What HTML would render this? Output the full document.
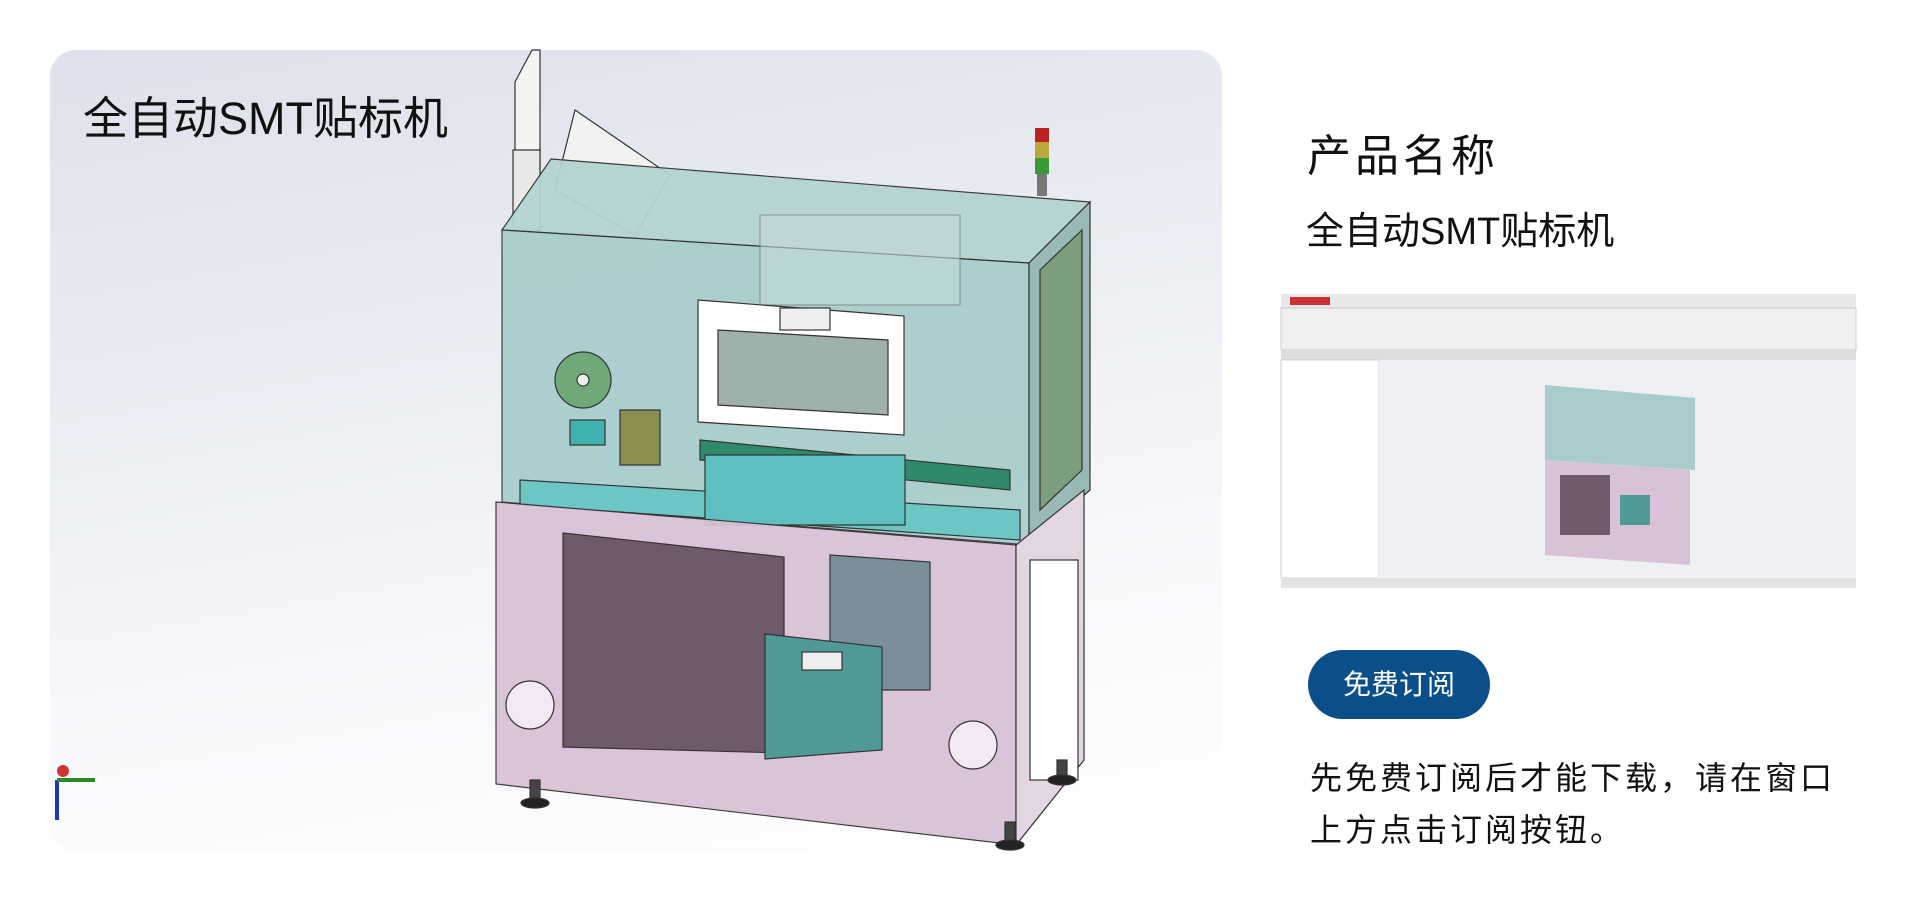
<!DOCTYPE html>
<html><head><meta charset="utf-8"><style>
body{margin:0;width:1920px;height:903px;background:#fff;overflow:hidden;position:relative;font-family:"Liberation Sans","Noto Sans CJK SC",sans-serif;color:#111}
.card{position:absolute;left:50px;top:50px;width:1172px;height:801px;border-radius:26px;overflow:hidden;background:linear-gradient(170deg,#dde1eb 0%,#e9ecf2 35%,#f6f7fa 65%,#ffffff 100%)}
.t{position:absolute;white-space:nowrap}
</style></head><body>
<div class="card"></div>
<svg width="1920" height="903" style="position:absolute;left:0;top:0">
<g stroke="#333" stroke-width="1.2">
<polygon points="515,82 532,50 540,50 540,190 515,190" fill="#f4f4f4"/>
<polygon points="513,150 540,150 540,230 513,230" fill="#e8e8e8"/>
<polygon points="575,110 670,175 635,235 555,190" fill="#f2f2f2"/>
<polygon points="551,159 1090,202 1029,263 502,230" fill="#b3d3d1" opacity=".95"/>
<polygon points="502,230 1029,263 1029,545 502,502" fill="#a7cccb" opacity=".92"/>
<polygon points="1029,263 1090,202 1090,490 1029,545" fill="#98b9b5"/>
<polygon points="1040,270 1082,230 1082,470 1040,510" fill="#7d9e7c"/>
<rect x="760" y="215" width="200" height="90" fill="#c4dada" opacity=".6" stroke="#777"/>
<polygon points="520,480 1020,510 1020,540 520,505" fill="#6cc6c4"/>
<polygon points="700,440 1010,470 1010,490 700,460" fill="#2f8a6c"/>
<rect x="705" y="455" width="200" height="70" fill="#5ec0c0"/>
<polygon points="698,300 904,316 904,435 698,422" fill="#fff"/>
<polygon points="718,330 888,340 888,415 718,405" fill="#9fb0a8"/>
<rect x="780" y="308" width="50" height="22" fill="#eee"/>
<circle cx="583" cy="380" r="28" fill="#6eaa78"/>
<circle cx="583" cy="380" r="6" fill="#eee"/>
<rect x="620" y="410" width="40" height="55" fill="#8a8d4e"/>
<rect x="570" y="420" width="35" height="25" fill="#3fb2b0"/>
<polygon points="496,502 1016,545 1016,845 496,784" fill="#d8c2d8" opacity=".95"/>
<polygon points="1016,545 1084,490 1084,760 1016,845" fill="#e3d6e3"/>
<rect x="1030" y="560" width="48" height="220" fill="#fff"/>
<polygon points="563,533 784,557 784,753 563,747" fill="#6f5a6c"/>
<polygon points="830,555 930,562 930,690 830,690" fill="#7a8f99"/>
<polygon points="765,634 882,647 882,750 765,759" fill="#4f9a97"/>
<rect x="802" y="652" width="40" height="18" fill="#eee"/>
<circle cx="530" cy="705" r="24" fill="#f5e8f5"/>
<circle cx="973" cy="745" r="24" fill="#f5e8f5"/>
<rect x="530" y="780" width="10" height="22" fill="#444"/>
<ellipse cx="535" cy="803" rx="14" ry="5" fill="#222"/>
<rect x="1005" y="822" width="10" height="22" fill="#444"/>
<ellipse cx="1010" cy="845" rx="14" ry="5" fill="#222"/>
<rect x="1057" y="760" width="10" height="20" fill="#444"/>
<ellipse cx="1062" cy="780" rx="14" ry="5" fill="#222"/>
</g>
<rect x="1035" y="128" width="14" height="14" fill="#b22"/>
<rect x="1035" y="142" width="14" height="16" fill="#b9a93a"/>
<rect x="1035" y="158" width="14" height="16" fill="#3a9a3a"/>
<rect x="1037" y="174" width="10" height="22" fill="#777"/>
<line x1="57" y1="780" x2="57" y2="820" stroke="#2233bb" stroke-width="4"/>
<line x1="57" y1="780" x2="95" y2="780" stroke="#2a8a2a" stroke-width="4"/>
<circle cx="63" cy="771" r="6" fill="#c33"/>
<rect x="1281" y="294" width="575" height="294" fill="#f3f4f6"/>
<rect x="1281" y="294" width="575" height="14" fill="#e8e8ea"/>
<rect x="1281" y="308" width="575" height="42" fill="#f0f0f0" stroke="#ccc"/>
<rect x="1281" y="350" width="575" height="10" fill="#ddd"/>
<rect x="1281" y="360" width="98" height="218" fill="#fff" stroke="#ccc"/>
<rect x="1379" y="360" width="477" height="218" fill="#eef0f4"/>
<polygon points="1545,385 1695,398 1695,470 1545,460" fill="#a7cccb"/>
<polygon points="1545,460 1690,470 1690,565 1545,555" fill="#d8c2d8"/>
<rect x="1560" y="475" width="50" height="60" fill="#6f5a6c"/>
<rect x="1620" y="495" width="30" height="30" fill="#4f9a97"/>
<rect x="1281" y="578" width="575" height="10" fill="#e3e3e3"/>
<rect x="1290" y="297" width="40" height="8" fill="#c33"/>
</svg>
<div class="t" style="left:83px;top:82px;font-size:45px">全自动SMT贴标机</div>
<div class="t" style="left:1307px;top:120px;font-size:44px;letter-spacing:4px">产品名称</div>
<div class="t" style="left:1306px;top:200px;font-size:38px">全自动SMT贴标机</div>
<div style="position:absolute;left:1308px;top:650px;width:182px;height:69px;border-radius:35px;background:#0b4f8a;color:#fff;font-size:28px;line-height:69px;text-align:center">免费订阅</div>
<div class="t" style="left:1310px;top:752px;font-size:32px;line-height:52px;letter-spacing:3px">先免费订阅后才能下载，请在窗口<br>上方点击订阅按钮。</div>
</body></html>
